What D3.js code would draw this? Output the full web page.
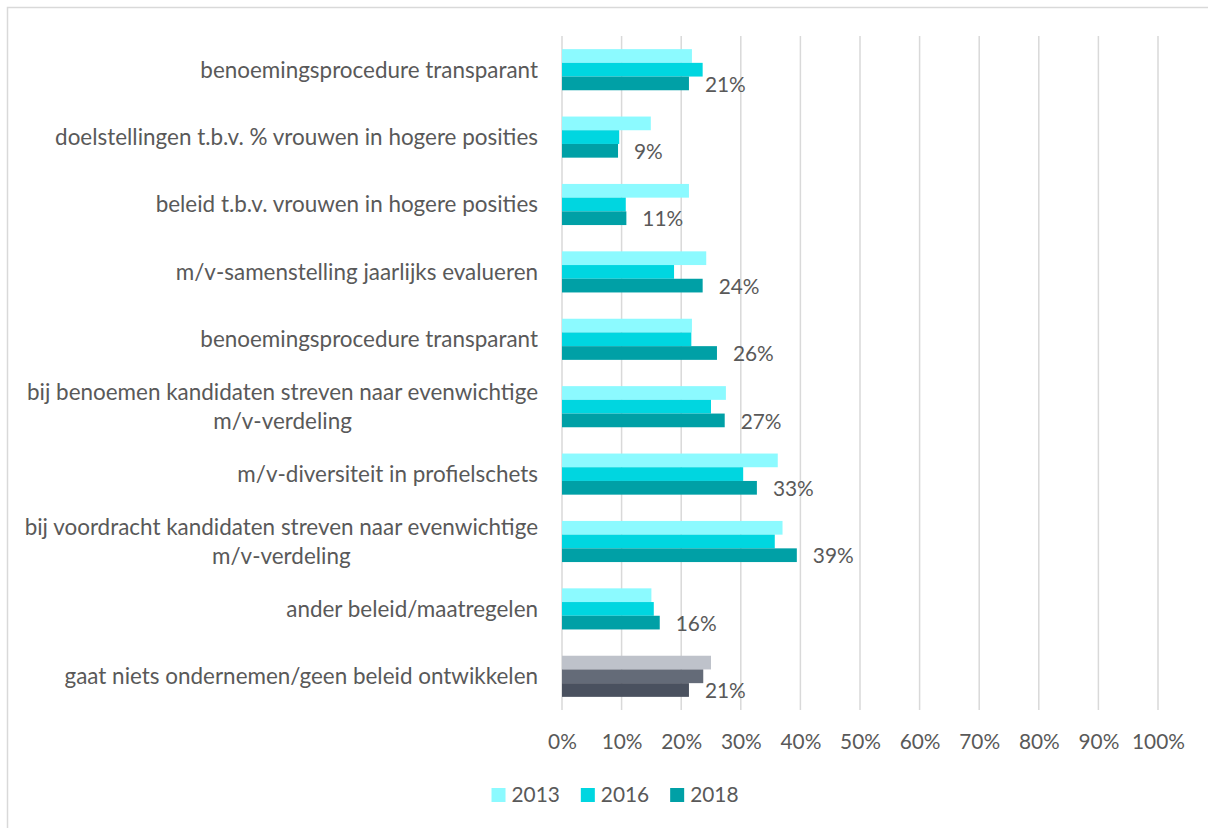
<!DOCTYPE html>
<html><head><meta charset="utf-8">
<script src="https://cdn.jsdelivr.net/npm/d3@7"></script>
<style>html,body{margin:0;padding:0;background:#fff;}svg{display:block;}</style>
</head><body>
<svg id="chart" width="1208" height="828"></svg>
<script>
const categories = [
  ["benoemingsprocedure transparant"],
  ["doelstellingen t.b.v. % vrouwen in hogere posities"],
  ["beleid t.b.v. vrouwen in hogere posities"],
  ["m/v-samenstelling jaarlijks evalueren"],
  ["benoemingsprocedure transparant"],
  ["bij benoemen kandidaten streven naar evenwichtige", "m/v-verdeling"],
  ["m/v-diversiteit in profielschets"],
  ["bij voordracht kandidaten streven naar evenwichtige", "m/v-verdeling"],
  ["ander beleid/maatregelen"],
  ["gaat niets ondernemen/geen beleid ontwikkelen"]
];
const seriesNames = ["2013", "2016", "2018"];
const v2013 = [21.8, 14.9, 21.3, 24.2, 21.8, 27.5, 36.2, 37.0, 15.0, 25.0];
const v2016 = [23.6, 9.6, 10.7, 18.8, 21.7, 25.0, 30.4, 35.7, 15.4, 23.7];
const v2018 = [21.3, 9.4, 10.8, 23.6, 26.0, 27.3, 32.7, 39.4, 16.4, 21.3];
const tickValues = [0, 10, 20, 30, 40, 50, 60, 70, 80, 90, 100];

const colors = ["#8cfaff", "#00d6e0", "#00a0a6"];
const grayColors = ["#bec2ca", "#646b78", "#4a515f"];
const textColor = "#595959";
const font = "Lato, 'Open Sans', sans-serif";

const svg = d3.select("#chart");
const series = [v2013, v2016, v2018];

// frame
svg.append("rect").attr("x", 7.5).attr("y", 7.5).attr("width", 1300).attr("height", 900)
  .attr("fill", "none").attr("stroke", "#d9d9d9").attr("stroke-width", 1.5);

const x = d3.scaleLinear().domain([0, 100]).range([562, 1158]);
const y = d3.scaleBand().domain(d3.range(categories.length)).range([36, 710])
  .paddingInner(0.39).paddingOuter(0.195);
const ys = d3.scaleBand().domain(d3.range(3)).range([0, y.bandwidth()]);

// font fit helper
function fitSize(text, target, base) {
  const t = svg.append("text").attr("font-family", font).attr("font-size", base).text(text);
  const w = t.node().getComputedTextLength();
  t.remove();
  return base * target / w;
}
const catSize = fitSize("benoemingsprocedure transparant", 338, 20);
const numSize = fitSize("100%", 53, 20);

// gridlines
svg.append("g").selectAll("line").data(tickValues).join("line")
  .attr("x1", d => x(d)).attr("x2", d => x(d))
  .attr("y1", 36).attr("y2", 710)
  .attr("stroke", "#d9d9d9").attr("stroke-width", 1.5);

// axis tick labels
const axis = d3.axisBottom(x).tickValues(tickValues).tickSize(0).tickPadding(0).tickFormat(d => d + "%");
const ag = svg.append("g").attr("transform", "translate(0,741.5)").call(axis);
ag.select(".domain").remove();
ag.selectAll("text").attr("font-family", font).attr("font-size", numSize)
  .attr("fill", textColor).attr("dy", "0.35em").attr("y", 0);

// bars
const groups = svg.append("g").selectAll("g").data(categories).join("g")
  .attr("transform", (d, i) => `translate(0,${y(i)})`);
groups.each(function(d, i) {
  const g = d3.select(this);
  const pal = i === categories.length - 1 ? grayColors : colors;
  series.forEach((s, j) => {
    g.append("rect").attr("x", x(0)).attr("y", ys(j))
      .attr("width", x(s[i]) - x(0)).attr("height", ys.bandwidth())
      .attr("fill", pal[j]);
  });
  // value label for 2018
  g.append("text").attr("x", x(v2018[i]) + 16).attr("y", ys(2) + ys.bandwidth() / 2 + 1)
    .attr("dy", "0.35em").attr("font-family", font).attr("font-size", numSize)
    .attr("fill", textColor).text(Math.round(v2018[i]) + "%");
});

// category labels
const lineH = 29;
svg.append("g").selectAll("text").data(categories).join("text")
  .attr("text-anchor", "middle")
  .attr("font-family", font).attr("font-size", catSize).attr("fill", textColor)
  .each(function(lines, i) {
    const t = d3.select(this);
    const cy = y(i) + y.bandwidth() / 2;
    // right-align block: compute max width
    lines.forEach((ln, k) => {
      t.append("tspan").attr("y", cy + (k - (lines.length - 1) / 2) * lineH).attr("dy", "0.35em").text(ln);
    });
  });
// position: right aligned for block, center lines within block
svg.selectAll("g:last-of-type > text").each(function() {});
(function alignLabels() {
  const texts = svg.selectAll("text[text-anchor='middle']");
  texts.each(function() {
    const t = d3.select(this);
    const tspans = t.selectAll("tspan");
    let maxW = 0;
    tspans.each(function() { maxW = Math.max(maxW, this.getComputedTextLength()); });
    const cx = 538 - maxW / 2;
    tspans.attr("x", cx);
  });
})();

// legend
const legSize = numSize;
const leg = svg.append("g");
let lx = 0;
const items = [];
seriesNames.forEach((name, j) => {
  const g = leg.append("g").attr("transform", `translate(${lx},0)`);
  g.append("rect").attr("x", 0).attr("y", -7).attr("width", 14).attr("height", 14).attr("fill", colors[j]);
  const t = g.append("text").attr("x", 20).attr("dy", "0.35em").attr("font-family", font)
    .attr("font-size", legSize).attr("fill", textColor).text(name);
  const w = t.node().getComputedTextLength();
  lx += 20 + w + 21;
});
const legW = lx - 21;
leg.attr("transform", `translate(${615 - legW / 2},795)`);
</script>
</body></html>
